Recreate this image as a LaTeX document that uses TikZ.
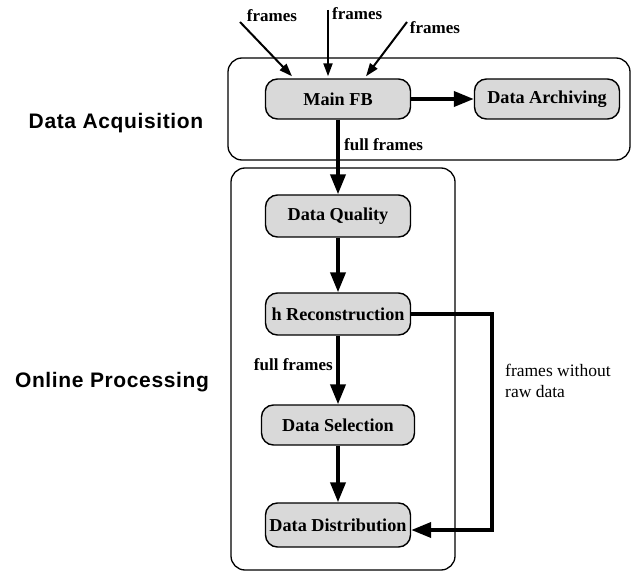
\documentclass[tikz,border=0pt]{standalone}
\usepackage{fontspec}
\setmainfont{Liberation Serif}
\newfontfamily\labelsans[LetterSpace=3]{Liberation Sans}
\usetikzlibrary{arrows.meta}
\tikzset{
  proc/.style={draw=black, line width=1.4pt, fill=gray!30, rounded corners=12pt,
    minimum width=145pt, minimum height=40pt, inner sep=1pt,
    font=\fontsize{18.2}{20}\selectfont\bfseries},
  group/.style={draw=black, line width=1.3pt, rounded corners=14pt},
  bigarrow/.style={line width=3.8pt, -{Triangle[length=20pt,width=15pt]}},
  smallarrow/.style={line width=2pt, -{Triangle[length=13pt,width=9pt]}},
  lbl/.style={font=\fontsize{17}{18}\selectfont\bfseries, inner sep=1pt},
  lblreg/.style={font=\fontsize{17.5}{21}\selectfont, inner sep=1pt, align=left},
  side/.style={font=\labelsans\fontsize{21}{24}\selectfont\bfseries}
}
\begin{document}
\begin{tikzpicture}[x=1pt,y=-1pt]
\useasboundingbox (0,0) rectangle (632,580);
% group boxes
\draw[group] (228,58) rectangle (630,160);
\draw[group] (231,168) rectangle (455,570);
% side labels
\node[side] (da) at (116,123) {Data Acquisition};
\node[side] (op) at (112,382) {Online Processing};
% process nodes
\node[proc] (main) at (338,99) {Main FB};
\node[proc] (arch) at (547,99) {Data Archiving};
\node[proc, minimum height=42pt] (dq) at (338,216) {Data Quality};
\node[proc, minimum height=42pt] (hrec) at (338,314) {h Reconstruction};
\node[proc, minimum width=153pt] (ds) at (338,425) {Data Selection};
\node[proc, minimum height=44pt] (dd) at (338,525) {Data Distribution};
% incoming frames
\coordinate (f1) at (240,22);
\coordinate (f2) at (328,10);
\coordinate (f3) at (407,22);
\draw[smallarrow] (f1) -- ([xshift=-46pt,yshift=2pt]main.north);
\draw[smallarrow] (f2) -- ([xshift=-10pt,yshift=2pt]main.north);
\draw[smallarrow] (f3) -- ([xshift=28pt,yshift=2pt]main.north);
\node[lbl] (l1) at (272,16) {frames};
\node[lbl, anchor=west] (l2) at (331,14) {frames};
\node[lbl] (l3) at (435,28) {frames};
% main flow
\draw[bigarrow] (main) -- (arch);
\draw[bigarrow] (main.south) -- (dq.north);
\node[lbl, anchor=west] (ff1) at (343,145) {full frames};
\draw[bigarrow] (dq.south) -- (hrec.north);
\draw[bigarrow] (hrec.south) -- (ds.north);
\node[lbl, anchor=east] (ff2) at (334,365) {full frames};
\draw[bigarrow] (ds.south) -- (dd.north);
% bypass
\coordinate (ret) at (492,314);
\draw[bigarrow] (hrec.east) -- (ret) |- ([yshift=-5pt]dd.east);
\node[lblreg, anchor=north west] (fw) at (504,363) {frames without\\raw data};
\end{tikzpicture}
\end{document}
